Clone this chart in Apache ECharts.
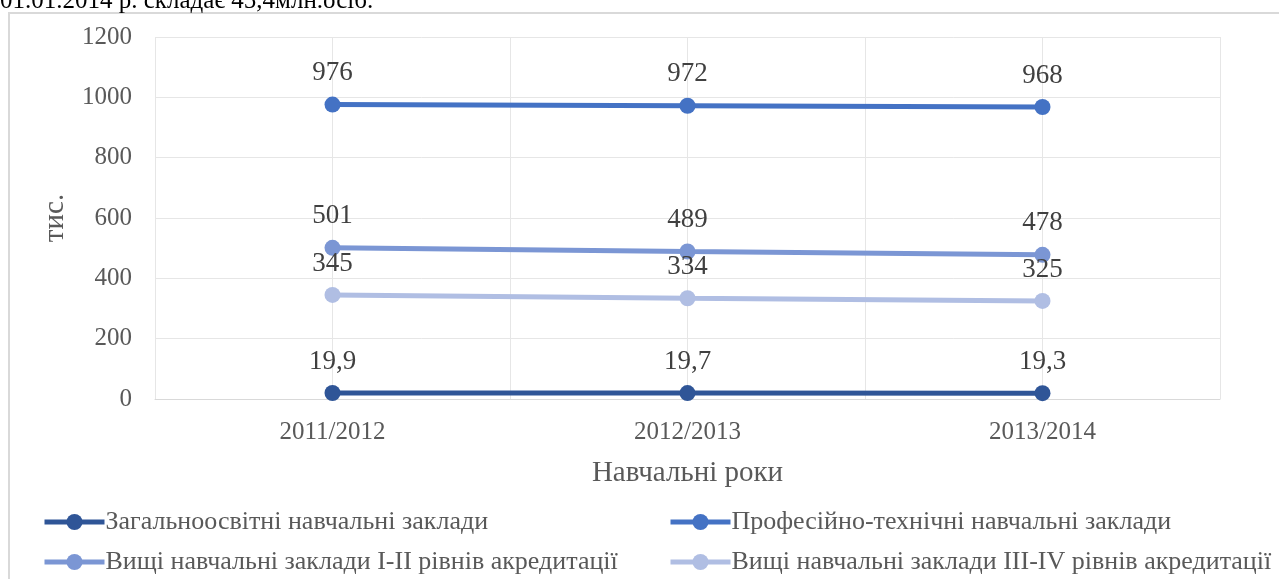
<!DOCTYPE html>
<html>
<head>
<meta charset="utf-8">
<script src="https://cdn.jsdelivr.net/npm/echarts@6/dist/echarts.min.js"></script>
<style>html,body{margin:0;padding:0;background:#fff}#c{width:1279px;height:579px}</style>
</head>
<body>
<div id="c"></div>
<script>
const categories = ['2011/2012', '2012/2013', '2013/2014'];
const seriesNames = [
  'Загальноосвітні навчальні заклади',
  'Професійно-технічні навчальні заклади',
  'Вищі навчальні заклади I-II рівнів акредитації',
  'Вищі навчальні заклади III-IV рівнів акредитації'
];
const general = [19.9, 19.7, 19.3];
const vocational = [976, 972, 968];
const higher12 = [501, 489, 478];
const higher34 = [345, 334, 325];
const yTicks = [0, 200, 400, 600, 800, 1000, 1200];
const colors = ['#2F5597', '#4472C4', '#7B96D4', '#B0BEE3'];
const topText = '01.01.2014 р. складає 45,4млн.осіб.';

const FONT = 'Liberation Serif';
const chart = echarts.init(document.getElementById('c'));

function mk(name, data, color) {
  return {
    name: name, type: 'line', data: data, xAxisIndex: 0,
    symbol: 'circle', symbolSize: 16,
    lineStyle: { width: 5, color: color },
    itemStyle: { color: color },
    label: {
      show: true, position: 'top', distance: 10,
      fontFamily: FONT, fontSize: 27, color: '#404040',
      formatter: p => String(p.value).replace('.', ',')
    },
    z: 3
  };
}

function lg(name, left, top) {
  return {
    data: [name], left: left, top: top, padding: 0,
    itemWidth: 60, itemHeight: 20, itemGap: 0,
    lineStyle: { width: 5 },
    textStyle: { fontFamily: FONT, fontSize: 26, color: '#595959', padding: [0, 0, 0, -4] }
  };
}

chart.setOption({
  animation: false,
  backgroundColor: '#fff',
  graphic: [
    { type: 'rect', shape: { x: 9, y: 13, width: 1300, height: 620 },
      style: { fill: 'none', stroke: '#d9d9d9', lineWidth: 2 }, z: 0 },
    { type: 'text', style: { x: 0, y: 14, text: topText, fontFamily: FONT, fontSize: 25,
      fill: '#000', verticalAlign: 'bottom' }, z: 10 }
  ],
  grid: { left: 155, right: 59, top: 37, bottom: 180 },
  xAxis: [
    {
      type: 'category', data: categories, boundaryGap: true,
      name: 'Навчальні роки', nameLocation: 'middle', nameGap: 60,
      nameTextStyle: { fontFamily: FONT, fontSize: 29, color: '#595959' },
      axisLine: { show: true, lineStyle: { color: '#d9d9d9', width: 1 } },
      axisTick: { show: false },
      axisLabel: { fontFamily: FONT, fontSize: 25, color: '#595959', margin: 21 },
      splitLine: { show: false }
    },
    {
      type: 'value', min: 0, max: 6, interval: 1, position: 'bottom',
      axisLine: { show: false }, axisTick: { show: false }, axisLabel: { show: false },
      splitLine: { show: true, lineStyle: { color: '#e6e6e6', width: 1 } }
    }
  ],
  yAxis: {
    type: 'value', min: 0, max: 1200, interval: 200,
    name: 'тис.', nameLocation: 'middle', nameGap: 85, nameRotate: 90,
    nameTextStyle: { fontFamily: FONT, fontSize: 29, color: '#595959' },
    axisLine: { show: false }, axisTick: { show: false },
    axisLabel: { fontFamily: FONT, fontSize: 25, color: '#595959', margin: 23,
      formatter: v => yTicks.includes(v) ? String(v) : '' },
    splitLine: { show: true, lineStyle: { color: '#e6e6e6', width: 1 } }
  },
  legend: [
    lg(seriesNames[0], 42, 509),
    lg(seriesNames[1], 668, 509),
    lg(seriesNames[2], 42, 549),
    lg(seriesNames[3], 668, 549)
  ],
  series: [
    mk(seriesNames[0], general, colors[0]),
    mk(seriesNames[1], vocational, colors[1]),
    mk(seriesNames[2], higher12, colors[2]),
    mk(seriesNames[3], higher34, colors[3])
  ]
});
</script>
</body>
</html>
